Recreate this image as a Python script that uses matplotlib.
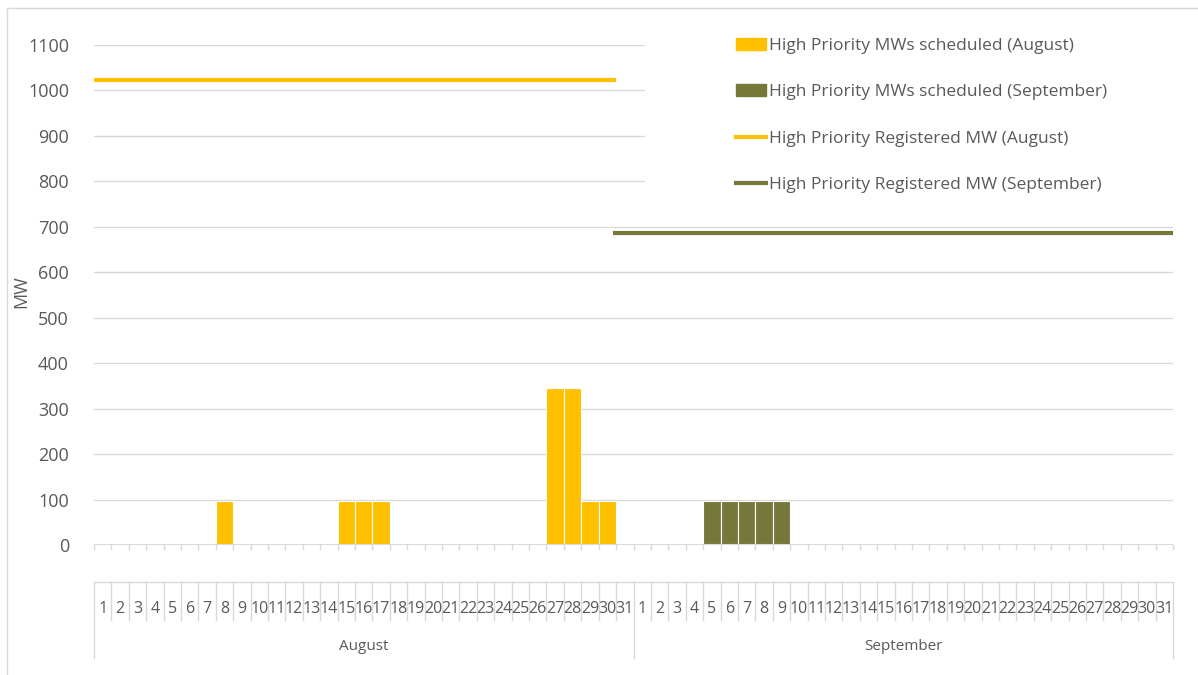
"""High priority MWs scheduled vs registered, August/September."""

import matplotlib.pyplot as plt
from matplotlib.lines import Line2D
from matplotlib.patches import Patch, Rectangle

# data
months = ["August", "September"]
aug_days = list(range(1, 32))
sep_days = list(range(1, 32))
aug_sched = [0, 0, 0, 0, 0, 0, 0, 97, 0, 0, 0, 0, 0, 0, 97, 97, 97, 0, 0, 0,
             0, 0, 0, 0, 0, 0, 346, 346, 97, 97, 0]
sep_sched = [0, 0, 0, 0, 97, 97, 97, 97, 97, 0, 0, 0, 0, 0, 0, 0, 0, 0, 0, 0,
             0, 0, 0, 0, 0, 0, 0, 0, 0, 0, 0]
aug_registered = 1023
sep_registered = 686
aug_line_span = (0, 30)      # in day slots
sep_line_span = (29.8, 62)
y_ticks = list(range(0, 1101, 100))

gold = "#FFC000"
olive = "#76783A"
grey = "#595959"
grid = "#D9D9D9"
font = "Open Sans"

W, H = 1198, 675
fig = plt.figure(figsize=(W / 100, H / 100), dpi=100)
ax = fig.add_axes([94 / W, 1 - 545 / H, (1173 - 94) / W, 500 / H])
ax.set_axisbelow(True)

n_aug = len(aug_days)
n = n_aug + len(sep_days)

# bars
ax.bar([i + 0.5 for i in range(n_aug)], aug_sched, width=1.0, color=gold,
       edgecolor="white", linewidth=0.8, zorder=3)
ax.bar([n_aug + i + 0.5 for i in range(len(sep_days))], sep_sched, width=1.0,
       color=olive, edgecolor="white", linewidth=0.8, zorder=3)

# registered lines
ax.plot(aug_line_span, [aug_registered] * 2, color=gold, lw=3, zorder=4,
        solid_capstyle="butt")
ax.plot(sep_line_span, [sep_registered] * 2, color=olive, lw=3, zorder=4,
        solid_capstyle="butt")

ax.set_xlim(0, n)
ax.set_ylim(0, 1100)
ax.set_yticks(y_ticks)
ax.set_yticklabels([str(v) for v in y_ticks], fontsize=13, color=grey,
                   family=font)
ax.tick_params(axis="y", length=0, pad=18)
ax.set_xticks([])
for s in ax.spines.values():
    s.set_visible(False)
ax.grid(axis="y", color=grid, lw=1)
ax.axhline(0, color=grid, lw=1.5, zorder=5)
fig.text(21 / W, 1 - 292 / H, "MW", rotation=90, ha="center", va="center",
         fontsize=13, color=grey, family=font)

# small ticks under the baseline
for i in range(n + 1):
    ax.plot([i, i], [0, -8], color=grid, lw=1, clip_on=False)

# category table below the plot
tr = ax.get_xaxis_transform()
y0 = -37 / 500
y1 = -75 / 500
y2 = -113 / 500
ax.plot([0, n], [y0, y0], transform=tr, color=grid, lw=1, clip_on=False)
for i in range(n + 1):
    bottom = y2 if i in (0, n_aug, n) else y1
    ax.plot([i, i], [y0, bottom], transform=tr, color=grid, lw=1,
            clip_on=False)
for i, d in enumerate(aug_days + sep_days):
    ax.text(i + 0.5, -64 / 500, str(d), transform=tr, ha="center",
            va="center", fontsize=11.5, color=grey, family=font)
ax.text(n_aug / 2, -101 / 500, months[0], transform=tr, ha="center",
        va="center", fontsize=11, color=grey, family=font)
ax.text(n_aug + len(sep_days) / 2, -101 / 500, months[1], transform=tr,
        ha="center", va="center", fontsize=11, color=grey, family=font)

# white legend area covering the grid
ax.add_patch(Rectangle((645 / W, 1 - 212 / H), (1173 - 645) / W, 195 / H,
                       transform=fig.transFigure, facecolor="white",
                       edgecolor="none", zorder=1.6))

handles = [
    Patch(color=gold),
    Patch(color=olive),
    Line2D([], [], color=gold, lw=3),
    Line2D([], [], color=olive, lw=3),
]
labels = [
    "High Priority MWs scheduled (August)",
    "High Priority MWs scheduled (September)",
    "High Priority Registered MW (August)",
    "High Priority Registered MW (September)",
]
leg = fig.legend(handles, labels, loc="upper left",
                 bbox_to_anchor=(720 / W, 1 - 22 / H), frameon=False,
                 prop={"family": font, "size": 12.5}, labelcolor=grey,
                 handlelength=1.75, handleheight=0.7, handletextpad=0.15,
                 labelspacing=1.75)

# chart border
fig.add_artist(Line2D([7 / W, 7 / W], [0, 1 - 8 / H], color=grid, lw=1))
fig.add_artist(Line2D([7 / W, 1], [1 - 8 / H, 1 - 8 / H], color=grid, lw=1))

fig.savefig("out.png", dpi=100)
